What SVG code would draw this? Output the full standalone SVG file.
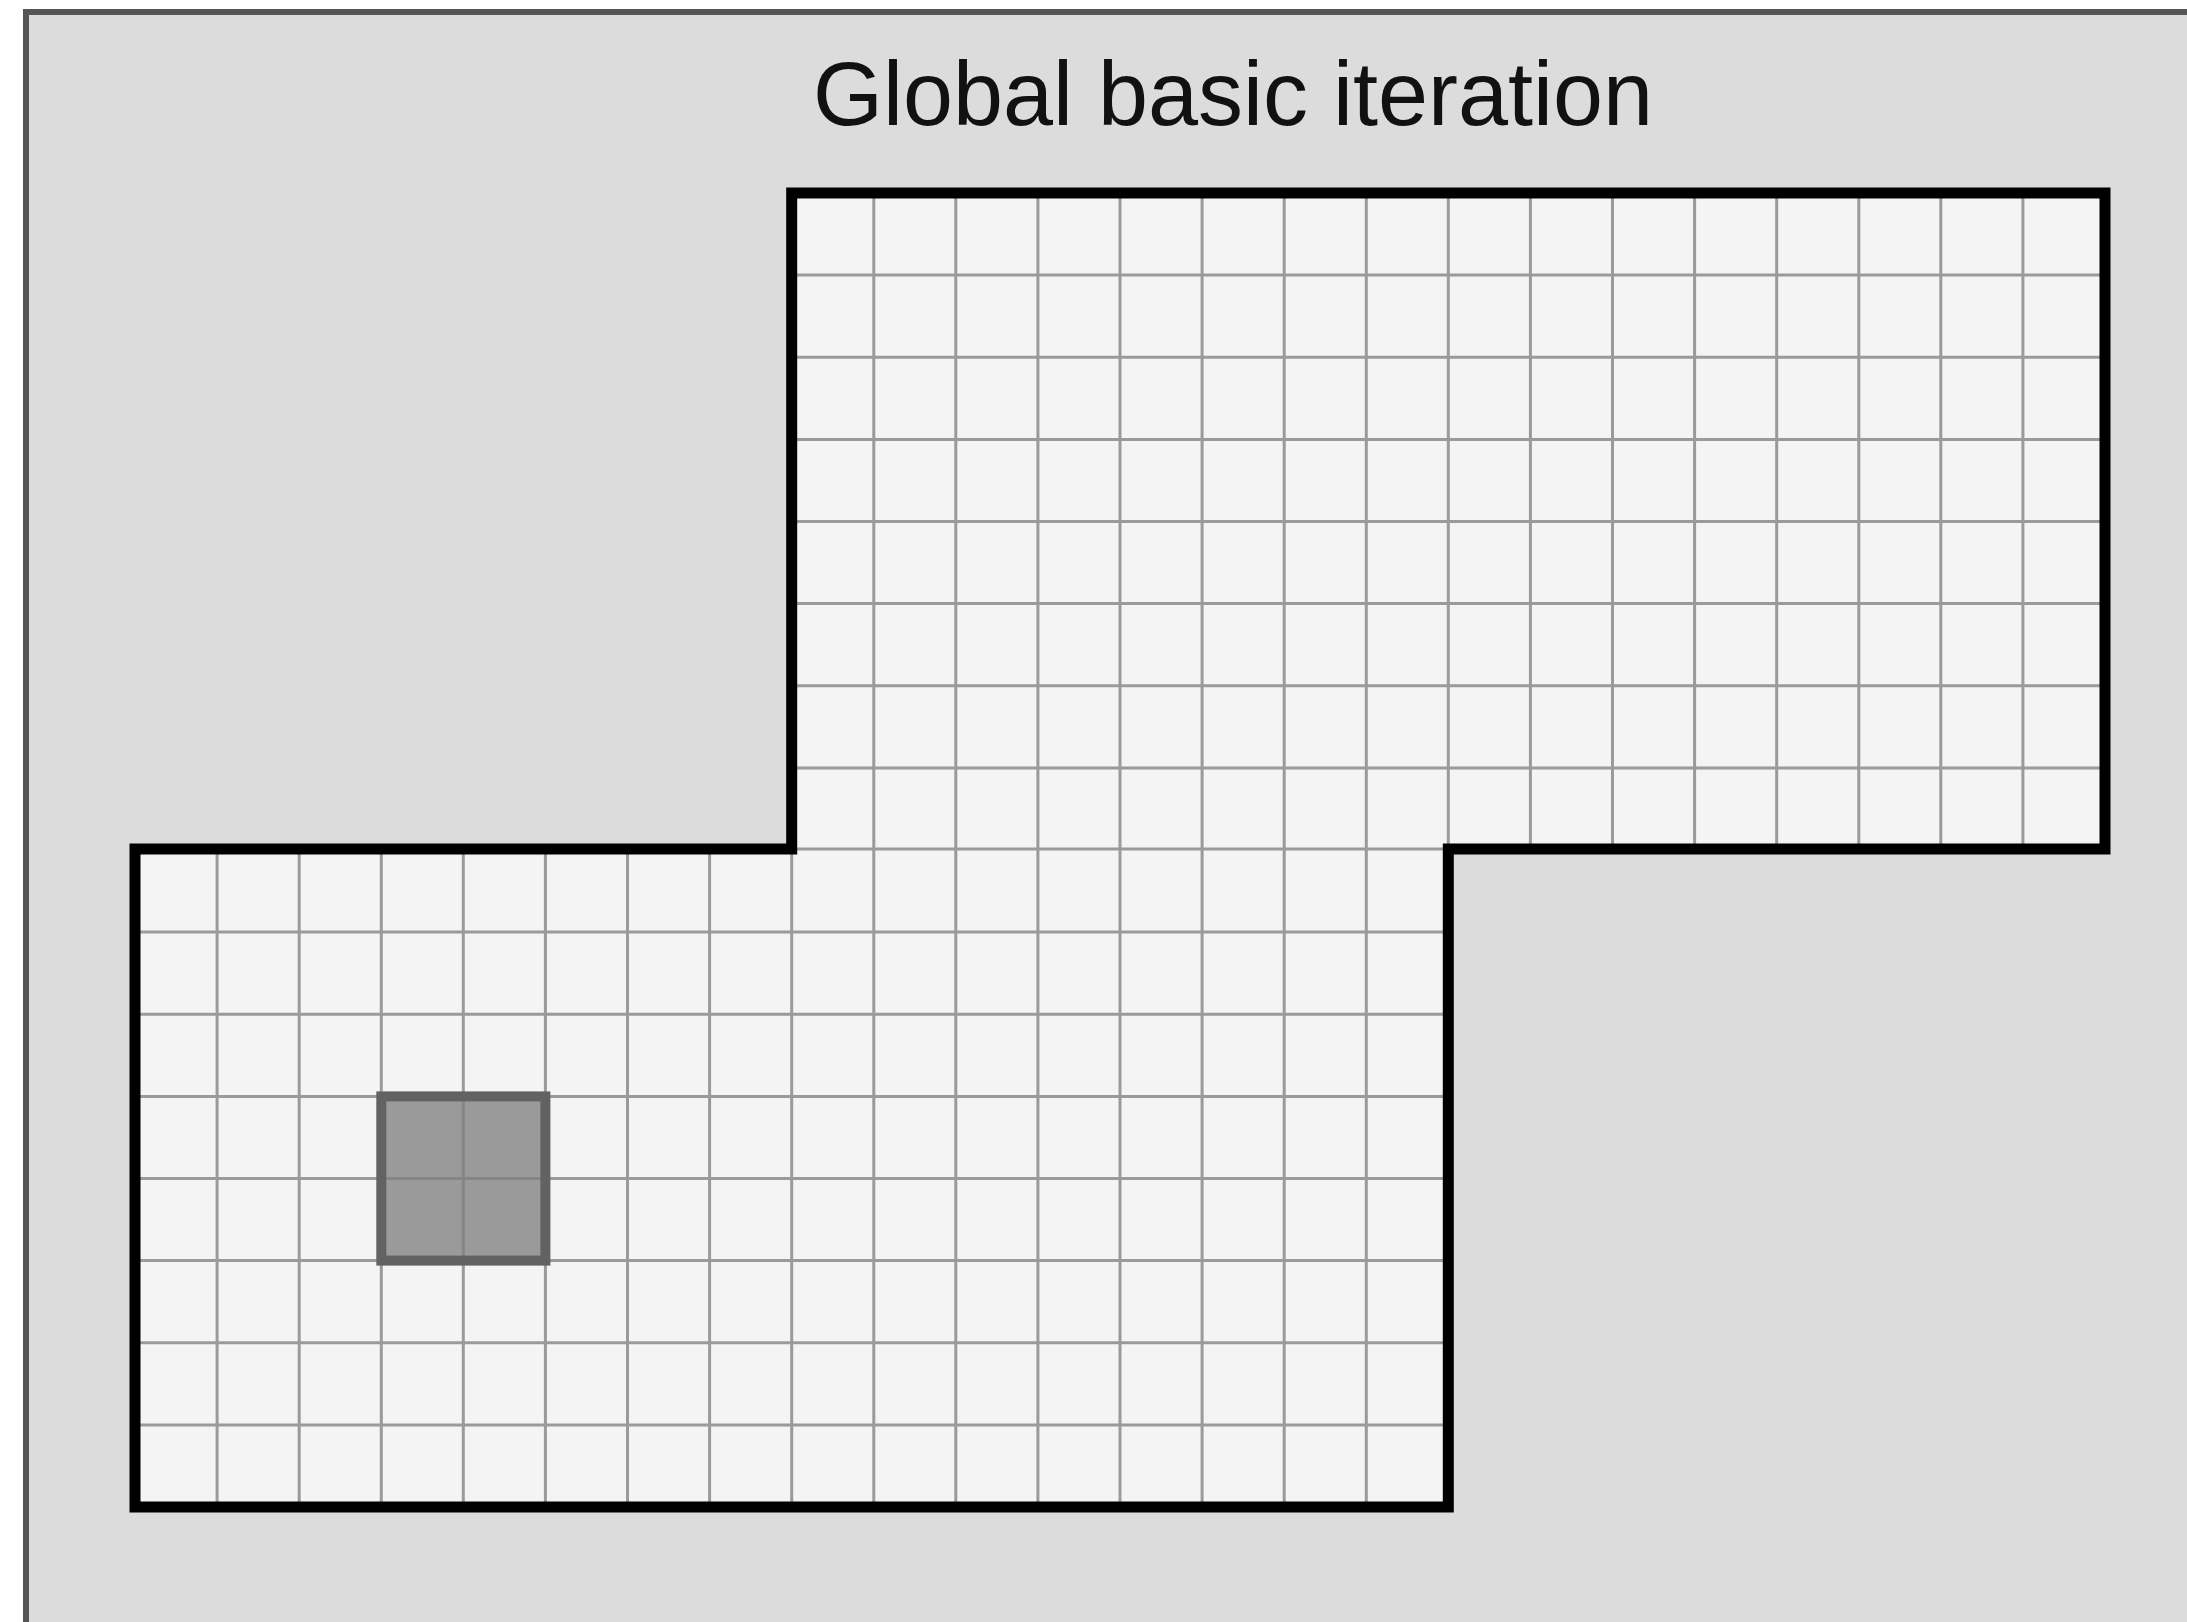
<svg xmlns="http://www.w3.org/2000/svg" width="2187" height="1622" viewBox="0 0 2187 1622">
<style>
.frame{fill:#dcdcdc;stroke:#555555;stroke-width:6}
.cells{fill:#f3f4f3;stroke:none}
.grid{fill:none;stroke:#9a9a9a;stroke-width:3}
.selfill{fill:#9a9a9a;stroke:none}
.selgrid{fill:none;stroke:#858585;stroke-width:3}
.sel{fill:none;stroke:#626262;stroke-width:10}
.outline{fill:none;stroke:#000000;stroke-width:11;stroke-linejoin:miter}
.title{font-family:"Liberation Sans",Arial,sans-serif;font-size:91px;fill:#111111}
</style>
<rect width="2187" height="1622" fill="#ffffff"/>
<rect id="frame" class="frame" x="26" y="12" width="2200" height="1700"/>
<text id="title" class="title" x="1233" y="125" text-anchor="middle" textLength="840" lengthAdjust="spacingAndGlyphs">Global basic iteration</text>
<g id="domain">
<path class="cells" d="M791.7,193 H2105 V849 H1448.3 V1507 H135 V849 H791.7 Z"/>
<rect class="selfill" x="381.3" y="1096.4" width="164.1" height="164.2"/>
<path class="grid" d="M217.1,849 V1507 M299.2,849 V1507 M381.3,849 V1507 M463.3,849 V1096.4 M463.3,1260.6 V1507 M545.4,849 V1507 M627.5,849 V1507 M709.6,849 V1507 M791.7,849 V1507 M873.8,193 V1507 M955.8,193 V1507 M1037.9,193 V1507 M1120,193 V1507 M1202.1,193 V1507 M1284.2,193 V1507 M1366.3,193 V1507 M1448.3,193 V849 M1530.4,193 V849 M1612.5,193 V849 M1694.6,193 V849 M1776.7,193 V849 M1858.8,193 V849 M1940.8,193 V849 M2022.9,193 V849 M791.7,275.1 H2105 M791.7,357.3 H2105 M791.7,439.4 H2105 M791.7,521.5 H2105 M791.7,603.6 H2105 M791.7,685.8 H2105 M791.7,767.9 H2105 M791.7,849 H1448.3 M135,932.1 H1448.3 M135,1014.3 H1448.3 M135,1096.4 H1448.3 M135,1178.5 H381.3 M545.4,1178.5 H1448.3 M135,1260.6 H1448.3 M135,1342.8 H1448.3 M135,1424.9 H1448.3"/>
<path class="selgrid" d="M463.3,1096.4 V1260.6 M381.3,1178.5 H545.4"/>
<rect id="block" class="sel" x="381.3" y="1096.4" width="164.1" height="164.2"/>
<path class="outline" d="M791.7,193 H2105 V849 H1448.3 V1507 H135 V849 H791.7 Z"/>
</g>
</svg>
